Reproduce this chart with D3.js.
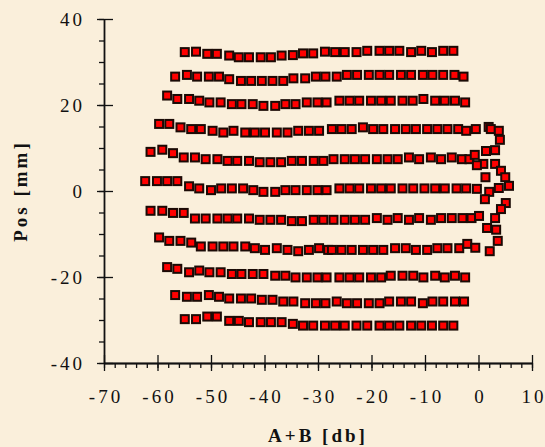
<!DOCTYPE html>
<html lang="en">
<head>
  <meta charset="UTF-8">
  <title>Pos vs A+B</title>
  <script src="https://d3js.org/d3.v7.min.js"></script>
  <style>
    body {
      margin: 0;
      background: #faefdb;
    }
    svg text {
      font-family: "Liberation Serif", "Times New Roman", serif;
      fill: #111;
    }
  </style>
</head>
<body>
  <div id="chart"></div>
  <script>
    // data, [A+B (db), Pos (mm)]
    const row1 = [[-54.9,32.3],[-52.8,32.4],[-50.7,31.9],[-48.9,31.9],[-46.6,31.5],[-44.8,31.1],[-42.9,31.1],[-40.7,31.1],[-38.8,31.1],[-36.8,31.5],[-34.7,31.6],[-32.8,32],[-30.9,32],[-28.7,32.4],[-26.8,32.3],[-25,32.3],[-22.8,32.3],[-20.8,32.6],[-18.5,32.6],[-16.7,32.6],[-14.8,32.6],[-12.6,32.3],[-10.7,32.6],[-8.7,32.3],[-6.6,32.6],[-4.7,32.6]];
    const row2 = [[-56.7,26.6],[-54.5,27],[-52.6,26.6],[-50.4,26.6],[-48.5,26.6],[-46.6,26],[-44.4,25.6],[-42.5,25.6],[-40.5,25.6],[-38.5,25.6],[-36.5,25.6],[-34.6,26.2],[-32.4,26.2],[-30.4,26.6],[-28.6,26.6],[-26.5,26.6],[-24.6,27],[-22.7,27],[-20.5,27],[-18.5,27],[-16.7,27],[-14.5,27],[-12.6,27],[-10.4,27],[-8.6,27],[-6.6,27],[-4.5,27],[-2.8,26.6]];
    const row3 = [[-58.2,22.2],[-56.3,21.4],[-54.1,21.4],[-52.2,21],[-50.3,20.6],[-48.2,20.6],[-46.1,20.2],[-44.3,20.2],[-42.2,20.2],[-40.2,19.8],[-38,19.8],[-36.1,20.2],[-34.2,20.2],[-32.1,20.6],[-30.1,20.6],[-28.4,20.6],[-26,21],[-24.1,21],[-22.3,21],[-20.1,21],[-18.2,21],[-16.4,21],[-14.2,21],[-12.3,21],[-10.3,21.4],[-8.1,21],[-6.3,21],[-4.4,21],[-2.5,20.6]];
    const row4 = [[-59.7,15.6],[-57.8,15.6],[-55.7,14.8],[-53.7,14.4],[-51.9,14.4],[-49.7,14],[-47.7,13.6],[-45.8,14],[-43.6,13.6],[-41.8,13.6],[-39.9,13.6],[-37.7,13.6],[-35.7,13.6],[-33.7,14],[-31.7,14],[-29.8,14],[-27.4,14.4],[-25.6,14.4],[-23.7,14.4],[-21.6,14.8],[-19.7,14.4],[-17.8,14.4],[-15.6,14.4],[-13.6,14.4],[-11.7,14.4],[-9.6,14.4],[-7.7,14.4],[-5.8,14.4],[-3.8,14.4],[-2.3,14],[-0.5,14.4]];
    const row5 = [[-61.3,9.1],[-59.1,9.6],[-57.1,8.8],[-55.1,7.8],[-53,7.8],[-51,7.4],[-48.8,7.4],[-46.9,7],[-45.1,7],[-42.9,7],[-40.9,6.7],[-38.9,6.7],[-36.9,6.7],[-34.9,7],[-33,7],[-30.8,7],[-29,7],[-27.1,7.4],[-25,7.4],[-23.1,7.4],[-21.2,7.4],[-19,7.4],[-17,7.4],[-15.1,7.4],[-13,7.8],[-11.1,7.4],[-8.9,7.8],[-7,7.4],[-5,7.8],[-3.1,7.4],[-1.7,7.4],[-0.7,8.4]];
    const row6 = [[-62.3,2.3],[-60.1,2.3],[-58.2,2.3],[-56.3,2.3],[-54.1,1.1],[-52.2,0.6],[-50,0.2],[-48.1,0.6],[-46.1,0.6],[-44,0.6],[-42.1,0.2],[-40.2,-0.2],[-38,-0.2],[-36.1,0.2],[-34.2,0.2],[-32.1,0.2],[-30.1,0.2],[-28.4,0.2],[-26,0.6],[-24.1,0.6],[-22.3,0.6],[-20.1,0.6],[-18.2,0.6],[-16.4,0.6],[-14.2,0.6],[-12.2,0.6],[-10.1,0.6],[-8.1,0.6],[-6.3,0.6],[-4.1,0.6],[-2.3,0.6],[-0.3,0.5]];
    const row7 = [[-61.3,-4.6],[-59.1,-4.6],[-57.1,-5.1],[-55.1,-5.1],[-53,-6.4],[-51,-6.4],[-48.8,-6.4],[-46.9,-6.4],[-45.1,-6.4],[-42.9,-6.4],[-40.9,-6.7],[-38.9,-6.7],[-36.9,-6.7],[-34.9,-7],[-33,-7],[-30.8,-6.7],[-29,-6.7],[-27.1,-6.7],[-25,-6.7],[-23.1,-6.7],[-21.2,-6.7],[-19,-6.3],[-17,-6.7],[-15.1,-6.3],[-13,-6.7],[-11.1,-6.3],[-8.9,-6.7],[-7,-6.3],[-5,-6.3],[-3,-6.3],[-1.3,-6.3],[0.1,-5.8]];
    const row8 = [[-59.7,-10.8],[-57.8,-11.6],[-55.7,-11.6],[-53.7,-12],[-51.9,-12.9],[-49.7,-12.9],[-47.7,-12.9],[-45.8,-12.9],[-43.6,-12.9],[-41.8,-13.3],[-39.9,-13.7],[-37.7,-13.3],[-35.7,-13.7],[-33.7,-14],[-31.7,-13.7],[-29.8,-13.3],[-28.1,-13.7],[-27.4,-13.7],[-25.6,-13.7],[-23.7,-13.7],[-21.6,-13.7],[-19.7,-13.7],[-17.8,-13.7],[-15.6,-13.3],[-13.6,-13.3],[-11.7,-13.7],[-9.6,-13.7],[-7.7,-13.3],[-5.8,-13.3],[-3.6,-13.3],[-2.1,-12.3],[-0.6,-13.2]];
    const row9 = [[-58.2,-17.7],[-56.3,-18.1],[-54.1,-18.9],[-52.2,-18.5],[-50.3,-18.9],[-48.2,-18.9],[-46.1,-19.3],[-44.3,-19.3],[-42.2,-19.3],[-40.2,-19.3],[-38,-19.7],[-36.1,-19.7],[-34.2,-20.1],[-32.1,-20.1],[-30.1,-20.1],[-28.4,-20.1],[-26,-20.1],[-24.1,-20.1],[-22.3,-20.1],[-20.1,-20.1],[-18.2,-20.1],[-16.4,-19.7],[-14.2,-19.7],[-12.2,-19.7],[-10.3,-20.1],[-8.1,-19.7],[-6.3,-20.1],[-4.4,-19.7],[-2.5,-20.1]];
    const row10 = [[-56.7,-24.2],[-54.5,-24.6],[-52.6,-24.6],[-50.4,-24.2],[-48.5,-24.6],[-46.6,-25],[-44.4,-25],[-42.5,-25],[-40.5,-25.3],[-38.5,-25.3],[-36.5,-25.7],[-34.6,-25.7],[-32.4,-26.1],[-30.4,-26.1],[-28.6,-26.1],[-26.5,-25.7],[-24.6,-26.1],[-22.7,-26.1],[-20.5,-26.1],[-18.5,-26.1],[-16.7,-25.7],[-14.5,-25.7],[-12.6,-25.7],[-10.4,-26.1],[-8.6,-25.7],[-6.6,-25.7],[-4.4,-25.7],[-2.7,-25.7]];
    const row11 = [[-54.9,-29.8],[-52.8,-29.8],[-50.7,-29.2],[-48.9,-29.2],[-46.6,-30.2],[-44.8,-30.2],[-42.9,-30.5],[-40.7,-30.5],[-38.8,-30.5],[-36.8,-30.5],[-34.7,-30.9],[-32.8,-31.3],[-30.9,-31.3],[-28.7,-31.3],[-26.8,-31.3],[-25,-31.3],[-22.8,-31.3],[-20.8,-31.3],[-18.5,-31.3],[-16.7,-31.3],[-14.8,-31.3],[-12.6,-31.3],[-10.7,-31.3],[-8.7,-31.3],[-6.6,-31.3],[-4.7,-31.3]];
    // the turn-around points on the right
    const rightEdge = [[1.9,14.9],[2.3,14.4],[3.8,14],[4,11.9],[3.1,9.5],[1.4,9.3],[0.9,6.3],[-0.3,6],[3.1,6.3],[4.2,4.7],[5,3.2],[1.3,3.2],[5.7,1.2],[3.8,0.7],[2,-0.2],[1.2,-1.9],[5.1,-2.8],[4.2,-4.2],[3.1,-6.3],[1.6,-8.6],[3.3,-9],[3.6,-11.6],[2.1,-14]];

    const xTicks = [-70, -60, -50, -40, -30, -20, -10, 0, 10];
    const yTicks = [-40, -20, 0, 20, 40];
    const xMinor = d3.range(-70, 10.1, 2);
    const yMinor = d3.range(-40, 40.1, 5);

    const points = [row1, row2, row3, row4, row5, row6, row7, row8, row9, row10, row11, rightEdge].flat();

    const width = 545, height = 447;
    const margin = { top: 19, right: 13, bottom: 84, left: 104 };

    const x = d3.scaleLinear().domain([-70, 10]).range([margin.left, width - margin.right]);
    const y = d3.scaleLinear().domain([-40, 40]).range([height - margin.bottom, margin.top]);

    const svg = d3.select("#chart").append("svg")
      .attr("width", width).attr("height", height);

    svg.append("rect").attr("width", width).attr("height", height).attr("fill", "#faefdb");

    // plain hyphen minus, like the original
    const fmt = d => String(d);

    // minor ticks (outside only)
    svg.append("g").attr("transform", `translate(0,${y(-40)})`)
      .call(d3.axisBottom(x).tickValues(xMinor).tickSize(5).tickSizeOuter(0).tickFormat(""));
    svg.append("g").attr("transform", `translate(${x(-70)},0)`)
      .call(d3.axisLeft(y).tickValues(yMinor).tickSize(5).tickSizeOuter(0).tickFormat(""));

    // major ticks cross the axis
    svg.append("g").attr("transform", `translate(0,${y(-40)})`)
      .call(d3.axisBottom(x).tickValues(xTicks).tickSize(-8).tickSizeOuter(0).tickFormat(""));
    svg.append("g").attr("transform", `translate(${x(-70)},0)`)
      .call(d3.axisLeft(y).tickValues(yTicks).tickSize(-9).tickSizeOuter(0).tickFormat(""));

    const xAxis = svg.append("g").attr("transform", `translate(0,${y(-40)})`)
      .call(d3.axisBottom(x).tickValues(xTicks).tickSize(8).tickSizeOuter(0).tickFormat(fmt));
    xAxis.selectAll("text")
      .attr("y", 40).attr("dy", 0).attr("dx", "1.5")
      .style("font-size", "19px").style("letter-spacing", "3px");

    const yAxis = svg.append("g").attr("transform", `translate(${x(-70)},0)`)
      .call(d3.axisLeft(y).tickValues(yTicks).tickSize(7).tickSizeOuter(0).tickPadding(12).tickFormat(fmt));
    yAxis.selectAll("text")
      .attr("dy", "0.36em")
      .style("font-size", "19px").style("letter-spacing", "3px");

    svg.selectAll(".domain, .tick line").attr("stroke", "#111").attr("stroke-width", 1.3);

    // markers
    svg.append("g").selectAll("rect")
      .data(points)
      .join("rect")
      .attr("x", d => x(d[0]) - 4)
      .attr("y", d => y(d[1]) - 4)
      .attr("width", 8)
      .attr("height", 8)
      .attr("fill", "#ff0000")
      .attr("stroke", "#1a0a05")
      .attr("stroke-width", 2);

    // axis titles
    svg.append("text")
      .attr("x", 318).attr("y", 442)
      .attr("text-anchor", "middle")
      .style("font-size", "19px").style("font-weight", "bold").style("letter-spacing", "3px")
      .text("A+B [db]");

    svg.append("text")
      .attr("transform", "translate(27,191) rotate(-90)")
      .attr("text-anchor", "middle")
      .style("font-size", "19px").style("font-weight", "bold").style("letter-spacing", "3px")
      .text("Pos [mm]");
  </script>
</body>
</html>
